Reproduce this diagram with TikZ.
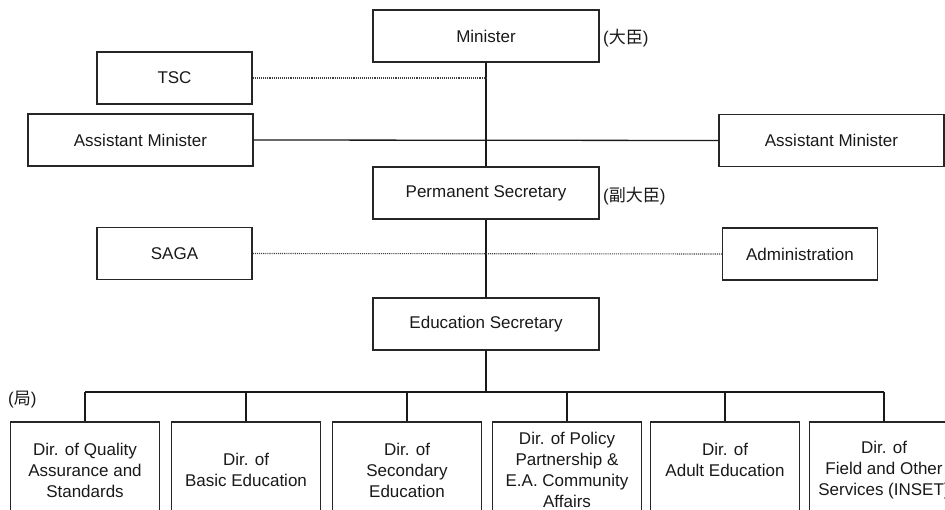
\documentclass[tikz,border=0pt]{standalone}
\usepackage{fontspec}
\setmainfont{Liberation Sans}
\newfontfamily\cjk{Noto Sans CJK JP}
\begin{document}
\begin{tikzpicture}[x=1pt,y=-1pt,
  box/.style={draw=black!85, line width=1.3pt, inner sep=0pt, align=center,
    text=black!90, font=\fontsize{17}{21}\selectfont},
  topbox/.style={box, minimum width=226pt, minimum height=52pt},
  sidebox/.style={box, minimum width=155pt, minimum height=52pt},
  widebox/.style={box, minimum width=225pt, minimum height=52pt},
  dirbox/.style={box, minimum width=149pt, minimum height=96pt},
  link/.style={draw=black!90, line width=1.3pt},
  dotlink/.style={draw=black!75, line width=1.1pt, densely dotted},
  tag/.style={anchor=west, inner sep=0pt, text=black!90, font=\fontsize{17}{21}\selectfont}]
\useasboundingbox (0,0) rectangle (945,510);
\clip (0,0) rectangle (945,510);

% upper hierarchy
\node[topbox] (minister) at (486,36) {Minister};
\node[sidebox] (tsc) at (174.5,78) {TSC};
\node[widebox] (amL) at (140.5,140) {Assistant Minister};
\node[widebox] (amR) at (831.5,140.5) {Assistant Minister};
\node[topbox] (ps) at (486,193) {Permanent Secretary};
\node[sidebox] (saga) at (174.5,253.5) {SAGA};
\node[sidebox] (admin) at (800,254) {Administration};
\node[topbox] (es) at (486,324) {Education Secretary};

% Japanese rank tags
\node[tag] (tagMin) at (603,38) {(\cjk 大臣\rmfamily)};
\node[tag] (tagPs) at (603,196) {(\cjk 副大臣\rmfamily)};
\node[tag] (tagDir) at (8,400) {(\cjk 局\rmfamily)};

% directorates
\node[dirbox] (d1) at (85,470) {Dir. of Quality\\Assurance and\\Standards};
\node[dirbox] (d2) at (246,470) {Dir. of\\Basic Education};
\node[dirbox] (d3) at (407,470) {Dir. of\\Secondary\\Education};
\node[dirbox] (d4) at (567,470) {Dir. of Policy\\Partnership \&\\E.A. Community\\Affairs};
\node[dirbox] (d5) at (725,470) {Dir. of\\Adult Education\\[0pt]};
\node[dirbox] (d6) at (884,470) {Dir. of\\Field and Other\\Services (INSET)};

% connectors
\coordinate (tscJoin) at (tsc.east -| minister.south);
\coordinate (bus) at (486,392);
\coordinate (busL) at (d1.north |- bus);
\coordinate (busR) at (d6.north |- bus);

\path[link] (minister.south) -- (ps.north);
\path[link] (amL.east) -- (amR.west);
\path[dotlink] (tsc.east) -- (tscJoin);
\path[link] (ps.south) -- (es.north);
\path[dotlink] (saga.east) -- (admin.west);
\path[link] (es.south) -- (bus);
\path[link] (busL) -- (busR);
\foreach \d in {d1,d2,d3,d4,d5,d6}
  \path[link] (\d.north |- bus) -- (\d.north);
\end{tikzpicture}
\end{document}
